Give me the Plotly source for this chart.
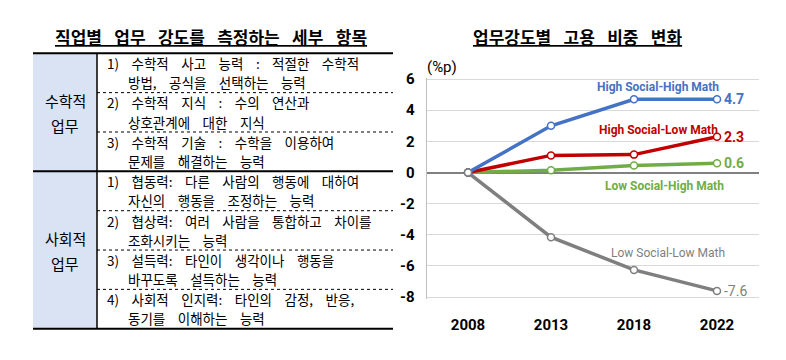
import plotly.graph_objects as go

# ---------------- data ----------------
years = ["2008", "2013", "2018", "2022"]
series_names = ["Low Social-High Math", "High Social-Low Math", "High Social-High Math", "Low Social-Low Math"]
low_social_high_math = [0.0, 0.15, 0.45, 0.6]
high_social_low_math = [0.0, 1.1, 1.15, 2.3]
high_social_high_math = [0.0, 3.0, 4.7, 4.7]
low_social_low_math = [0.0, -4.15, -6.25, -7.6]
y_ticks = [6, 4, 2, 0, -2, -4, -6, -8]

chart_title = "업무강도별 고용 비중 변화"
unit_label = "(%p)"

table_title = "직업별 업무 강도를 측정하는 세부 항목"
math_category = ["수학적", "업무"]
social_category = ["사회적", "업무"]
math_items = [
    ("1) 수학적 사고 능력 : 적절한 수학적", "방법, 공식을 선택하는 능력"),
    ("2) 수학적 지식 : 수의 연산과", "상호관계에 대한 지식"),
    ("3) 수학적 기술 : 수학을 이용하여", "문제를 해결하는 능력"),
]
social_items = [
    ("1) 협동력: 다른 사람의 행동에 대하여", "자신의 행동을 조정하는 능력"),
    ("2) 협상력: 여러 사람을 통합하고 차이를", "조화시키는 능력"),
    ("3) 설득력: 타인이 생각이나 행동을", "바꾸도록 설득하는 능력"),
    ("4) 사회적 인지력: 타인의 감정, 반응,", "동기를 이해하는 능력"),
]

# ---------------- styling ----------------
OFF = 8                     # page body margin
W, H = 786 - 2 * OFF, 360 - 2 * OFF
KR = "Noto Sans CJK KR"
LAT = "Roboto"
colors = {
    "High Social-High Math": "#4472C4",
    "High Social-Low Math": "#C00000",
    "Low Social-High Math": "#70AD47",
    "Low Social-Low Math": "#7F7F7F",
}
values = {
    "Low Social-High Math": low_social_high_math,
    "High Social-Low Math": high_social_low_math,
    "High Social-High Math": high_social_high_math,
    "Low Social-Low Math": low_social_low_math,
}


def px(x):
    return (x - OFF) / W


def py(y):
    return 1 - (y - OFF) / H


def spaced(s, sp):
    return s.replace(" ", sp)


fig = go.Figure()
for name in series_names:
    c = colors[name]
    fig.add_trace(go.Scatter(
        x=years, y=values[name], mode="lines+markers", name=name,
        line=dict(color=c, width=3.5),
        marker=dict(size=7, color="white", line=dict(color=c, width=1.5)),
        hoverinfo="skip",
    ))

annotations = []
shapes = []

# chart title
annotations.append(dict(
    xref="paper", yref="paper", x=px(577), y=py(31), xanchor="center", yanchor="middle",
    text=spaced(chart_title, "\u2002 "), showarrow=False,
    font=dict(family=KR, size=17, color="black", weight="bold", lineposition="under"),
))
annotations.append(dict(
    xref="paper", yref="paper", x=px(442), y=py(62), xanchor="center", yanchor="middle",
    text=unit_label, showarrow=False, font=dict(family=LAT, size=15, color="black"),
))

# series name labels
label_pos = {
    "High Social-High Math": (2.29, 5.5, True),
    "High Social-Low Math": (2.29, 2.75, True),
    "Low Social-High Math": (2.37, -0.86, True),
    "Low Social-Low Math": (2.41, -5.16, False),
}
for name, (lx, ly, bold) in label_pos.items():
    annotations.append(dict(
        xref="x", yref="y", x=lx, y=ly, xanchor="center", yanchor="middle",
        text=name, showarrow=False,
        font=dict(family=LAT, size=12, color=colors[name], weight="bold" if bold else "normal"),
    ))
for name in series_names:
    v = values[name][-1]
    annotations.append(dict(
        xref="x", yref="y", x=len(years) - 1, y=v, xanchor="left", yanchor="middle", xshift=5,
        text=f"{v:.1f}", showarrow=False,
        font=dict(family=LAT, size=14, color=colors[name],
                  weight="normal" if name == "Low Social-Low Math" else "bold"),
    ))

# ---------------- table ----------------
annotations.append(dict(
    xref="paper", yref="paper", x=px(211), y=py(31), xanchor="center", yanchor="middle",
    text=spaced(table_title, "\u2002 "), showarrow=False,
    font=dict(family=KR, size=17, color="black", weight="bold", lineposition="under"),
))

TL, TD, TR = 33, 97, 393
T_TOP, T_MID, T_BOT = 48, 171.5, 336
shapes.append(dict(type="rect", xref="paper", yref="paper", x0=px(TL), x1=px(TD), y0=py(T_TOP), y1=py(T_BOT),
                   fillcolor="#DAE3F3", line=dict(width=0), layer="below"))
for yy in (T_TOP, T_MID, T_BOT):
    shapes.append(dict(type="line", xref="paper", yref="paper", x0=px(TL), x1=px(TR), y0=py(yy), y1=py(yy),
                       line=dict(color="black", width=2)))
shapes.append(dict(type="line", xref="paper", yref="paper", x0=px(TD), x1=px(TD), y0=py(T_TOP), y1=py(T_BOT),
                   line=dict(color="black", width=1.5)))

ITEM_SP = "\u2002\u2009 "


def add_section(items, cat, top, bottom, cat_y):
    n = len(items)
    h = (bottom - top) / n
    for i, (l1, l2) in enumerate(items):
        r0 = top + i * h
        if i > 0:
            shapes.append(dict(type="line", xref="paper", yref="paper", x0=px(TD), x1=px(TR),
                               y0=py(r0), y1=py(r0), line=dict(color="black", width=1, dash="dot")))
        annotations.append(dict(xref="paper", yref="paper", x=px(105), y=py(r0 + h * 0.25),
                                xanchor="left", yanchor="middle", text=spaced(l1, ITEM_SP), showarrow=False,
                                font=dict(family=KR, size=13.5, color="black")))
        annotations.append(dict(xref="paper", yref="paper", x=px(126), y=py(r0 + h * 0.74),
                                xanchor="left", yanchor="middle", text=spaced(l2, ITEM_SP), showarrow=False,
                                font=dict(family=KR, size=13.5, color="black")))
    for j, t in enumerate(cat):
        annotations.append(dict(xref="paper", yref="paper", x=px(65), y=py(cat_y[j]),
                                xanchor="center", yanchor="middle", text=t, showarrow=False,
                                font=dict(family=KR, size=15, color="black")))


add_section(math_items, math_category, T_TOP, T_MID, (97, 124))
add_section(social_items, social_category, T_MID, T_BOT, (242, 268))

# ---------------- axes ----------------
y_lo, y_hi = -8.1, 6.1
ppu = (303 - 75) / 14.0
top_px = 75 - (y_hi - 6) * ppu
bot_px = 303 + (-8 - y_lo) * ppu

fig.update_layout(
    width=W, height=H, margin=dict(l=0, r=0, t=0, b=0),
    paper_bgcolor="white", plot_bgcolor="white", showlegend=False,
    annotations=annotations, shapes=shapes,
    xaxis=dict(
        domain=[px(426.5), px(758.5)], type="category", range=[-0.5, 3.5],
        showgrid=False, zeroline=False, showline=False, ticks="",
        tickfont=dict(family=LAT, size=15, color="black", weight="bold"),
        ticklabelstandoff=15,
    ),
    yaxis=dict(
        domain=[py(bot_px), py(top_px)], range=[y_lo, y_hi],
        tickvals=y_ticks, ticktext=[str(v) for v in y_ticks],
        showgrid=True, gridcolor="#D9D9D9", gridwidth=1,
        zeroline=True, zerolinecolor="#808080", zerolinewidth=1.5,
        showline=True, linecolor="#BFBFBF", linewidth=1, ticks="",
        tickfont=dict(family=LAT, size=15, color="black", weight="bold"),
        ticklabelstandoff=8,
    ),
)

fig.write_html("out.html")
